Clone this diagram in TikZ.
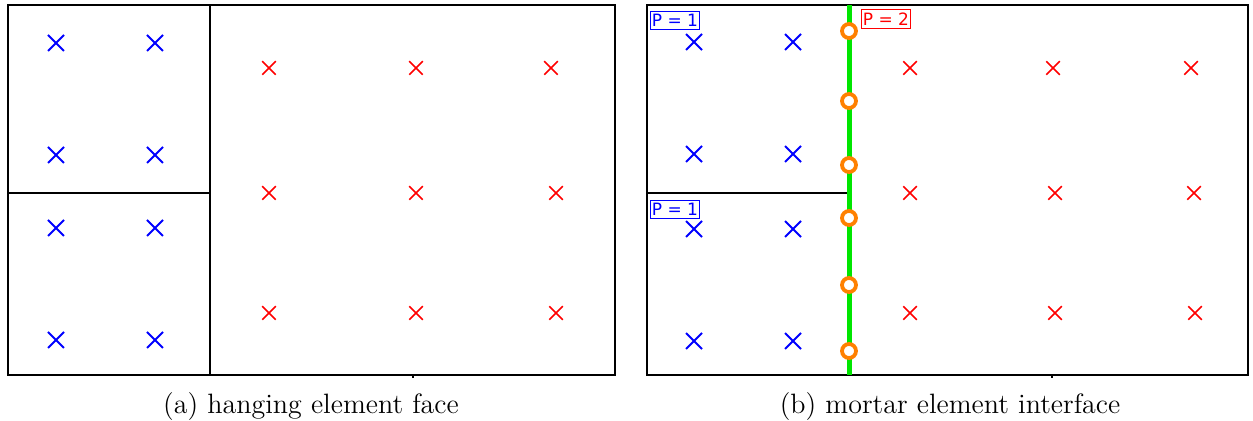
\documentclass[tikz,border=0pt]{standalone}
\usepackage{fontspec}
\newfontfamily\dejavu{DejaVu Sans}
\usetikzlibrary{shapes.misc}
\begin{document}
\begin{tikzpicture}[x=0.5pt,y=-0.5pt,
  frame/.style={line width=1pt},
  bx/.style={cross out,draw=blue,line width=1pt,minimum size=7pt,inner sep=0pt},
  rx/.style={cross out,draw=red,line width=0.75pt,minimum size=6pt,inner sep=0pt},
  mortar/.style={line width=2.5pt,draw={rgb,255:red,0;green,230;blue,0}},
  gp/.style={circle,draw={rgb,255:red,255;green,128;blue,0},fill=white,line width=1.9pt,minimum size=7pt,inner sep=0pt},
  plab/.style={draw,line width=0.4pt,inner xsep=0.8pt,inner ysep=1.4pt,font=\dejavu\fontsize{8.5}{9}\selectfont},
  captxt/.style={font=\fontsize{14}{16}\selectfont,inner sep=0pt}]
\useasboundingbox (0,0) rectangle (1253,421);
% ---------- panel (a)
\coordinate (a1) at (8,5); \coordinate (a2) at (615,375);
\coordinate (av1) at (210,5); \coordinate (av2) at (210,375);
\coordinate (ah1) at (8,193); \coordinate (ah2) at (210,193);
\coordinate (at1) at (413,375); \coordinate (at2) at (413,378);
\draw[frame] (a1) rectangle (a2);
\draw[frame] (av1) -- (av2);
\draw[frame] (ah1) -- (ah2);
\draw[line width=0.6pt] (at1) -- (at2);
\foreach \x/\n in {56/1,155/2}
  \foreach \y/\m in {43/1,155/2,228/3,340/4}
    \node[bx] (ab\n\m) at (\x,\y) {};
\node[rx] (ar11) at (269,68) {};
\node[rx] (ar21) at (416,68) {};
\node[rx] (ar31) at (551,68) {};
\node[rx] (ar12) at (269,193) {};
\node[rx] (ar22) at (416,193) {};
\node[rx] (ar32) at (556,193) {};
\node[rx] (ar13) at (269,313) {};
\node[rx] (ar23) at (416,313) {};
\node[rx] (ar33) at (556,313) {};
\node[captxt] (capa) at (311,407) {(a) hanging element face};
% ---------- panel (b)
\coordinate (b1) at (647,5); \coordinate (b2) at (1248,375);
\coordinate (bv1) at (849,5); \coordinate (bv2) at (849,375);
\coordinate (bh1) at (647,193); \coordinate (bh2) at (849,193);
\coordinate (bt1) at (1052,375); \coordinate (bt2) at (1052,378);
\draw[frame] (b1) rectangle (b2);
\draw[frame] (bh1) -- (bh2);
\draw[line width=0.6pt] (bt1) -- (bt2);
\draw[mortar] (bv1) -- (bv2);
\foreach \x/\n in {694/1,793/2}
  \foreach \y/\m in {42/1,154/2,229/3,341/4}
    \node[bx] (bb\n\m) at (\x,\y) {};
\node[rx] (br11) at (910,68) {};
\node[rx] (br21) at (1053,68) {};
\node[rx] (br31) at (1191,68) {};
\node[rx] (br12) at (910,193) {};
\node[rx] (br22) at (1055,193) {};
\node[rx] (br32) at (1194,193) {};
\node[rx] (br13) at (910,313) {};
\node[rx] (br23) at (1055,313) {};
\node[rx] (br33) at (1195,313) {};
\foreach \y/\k in {31/1,101/2,165/3,218/4,285/5,351/6}
  \node[gp] (g\k) at (849,\y) {};
\node[plab,draw=blue,text=blue,fill=white] (p1a) at (675,20) {P = 1};
\node[plab,draw=blue,text=blue,fill=white] (p1b) at (675,209) {P = 1};
\node[plab,draw=red,text=red,fill=white] (p2) at (886,19) {P = 2};
\node[captxt] (capb) at (950,407) {(b) mortar element interface};
\end{tikzpicture}
\end{document}
